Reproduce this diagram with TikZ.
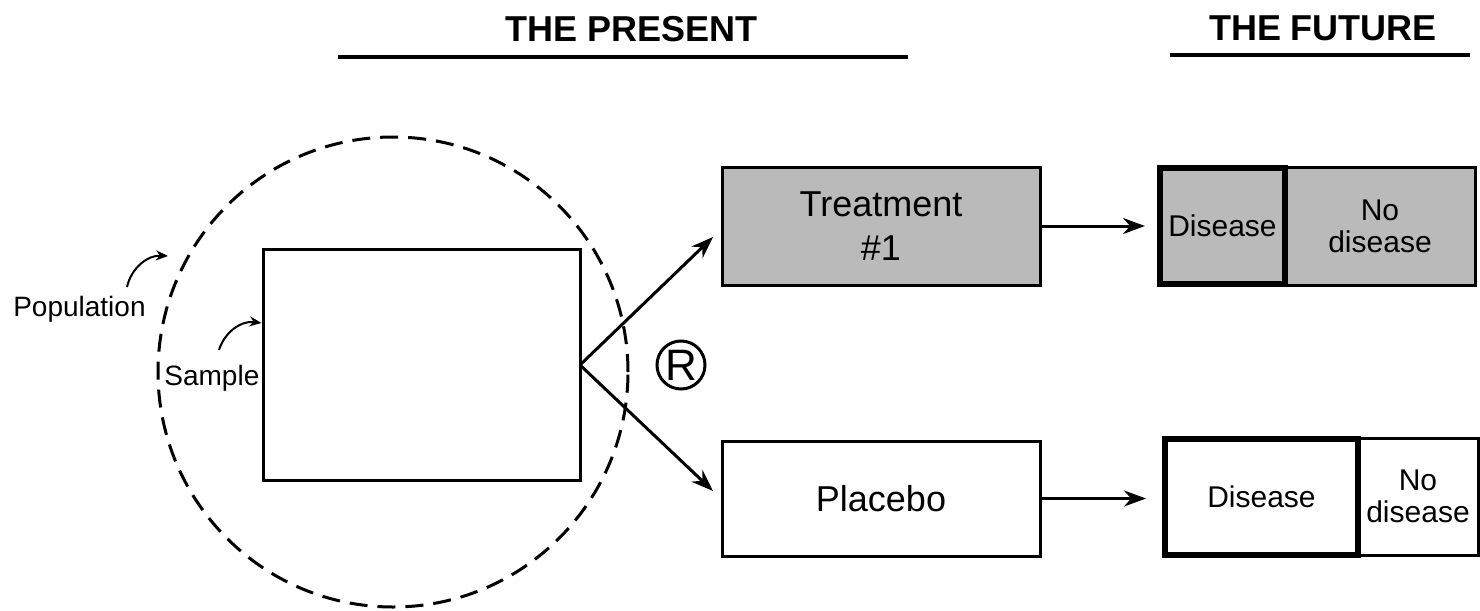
\documentclass[tikz,border=0pt]{standalone}
\usepackage{fontspec}
\setmainfont{Liberation Sans}
\usetikzlibrary{arrows.meta}
\tikzset{
  box/.style={draw, line width=1.5pt, inner sep=0pt, align=center},
  grey/.style={fill=black!27},
  thickbox/.style={draw, line width=3pt, inner sep=0pt, align=center},
  arr/.style={line width=1.5pt, -{Stealth[length=11pt,width=8pt]}},
  smallarr/.style={line width=1pt, -{Stealth[length=6pt,width=5pt]}},
  head/.style={font=\fontsize{18}{21}\selectfont\bfseries},
  big/.style={font=\fontsize{18}{22}\selectfont},
  mid/.style={font=\fontsize{15}{16}\selectfont},
  lab/.style={font=\fontsize{14}{16}\selectfont, inner sep=0pt}
}
\begin{document}
\begin{tikzpicture}[x=0.5pt, y=-0.5pt]
  \useasboundingbox (0,0) rectangle (1480,611);
  % headings
  \node[head] (present) at (632,29) {THE PRESENT};
  \node[head] (future) at (1323,28) {THE FUTURE};
  \draw[line width=2pt] (338,57) -- (908,57);
  \draw[line width=2pt] (1170,55) -- (1470,55);
  % population and sample
  \node[draw, circle, dashed, line width=1.5pt, dash pattern=on 9pt off 5pt,
        minimum size=235pt, inner sep=0pt] (pop) at (393,372) {};
  \node[box, fill=white, minimum width=158.5pt, minimum height=115.5pt] (sample) at (421.5,364.5) {};
  \node[lab, anchor=east] (poplab) at (146,309) {Population};
  \node[lab, anchor=west] (samplab) at (164,378) {Sample};
  \coordinate (p1) at (127,287);
  \coordinate (p2) at (168,256);
  \coordinate (s1) at (219,350);
  \draw[smallarr] (p1) to[bend left=40] (p2);
  \draw[smallarr] (s1) to[bend left=40] (sample.west |- 0,323);
  % randomisation
  \node[draw, circle, line width=1.5pt, minimum size=24pt, inner sep=0pt,
        font=\fontsize{22}{22}\selectfont] (rand) at (681,365) {R};
  \node[box, grey, big, minimum width=159pt, minimum height=59pt] (treat) at (881,226) {Treatment\\\#1};
  \node[box, big, minimum width=159pt, minimum height=57.5pt] (placebo) at (881,498.5) {Placebo};
  \coordinate (split) at (580,365);
  \coordinate (t1) at (713,237);
  \coordinate (t2) at (713,491);
  \draw[arr] (split) -- (t1);
  \draw[arr] (split) -- (t2);
  % outcomes
  \node[box, grey, mid, minimum width=95pt, minimum height=59pt] (nodis1) at (1380,226) {No\\disease};
  \node[thickbox, grey, mid, minimum width=62.5pt, minimum height=58pt] (dis1) at (1222.5,226) {Disease};
  \node[box, mid, minimum width=60pt, minimum height=58.5pt] (nodis2) at (1418,496.5) {No\\disease};
  \node[thickbox, mid, minimum width=96.5pt, minimum height=58pt] (dis2) at (1261.5,496.5) {Disease};
  \draw[arr, shorten >=6pt] (treat) -- (dis1);
  \draw[arr, shorten >=8pt] (placebo.east) -- (dis2.west |- placebo.east);
\end{tikzpicture}
\end{document}
